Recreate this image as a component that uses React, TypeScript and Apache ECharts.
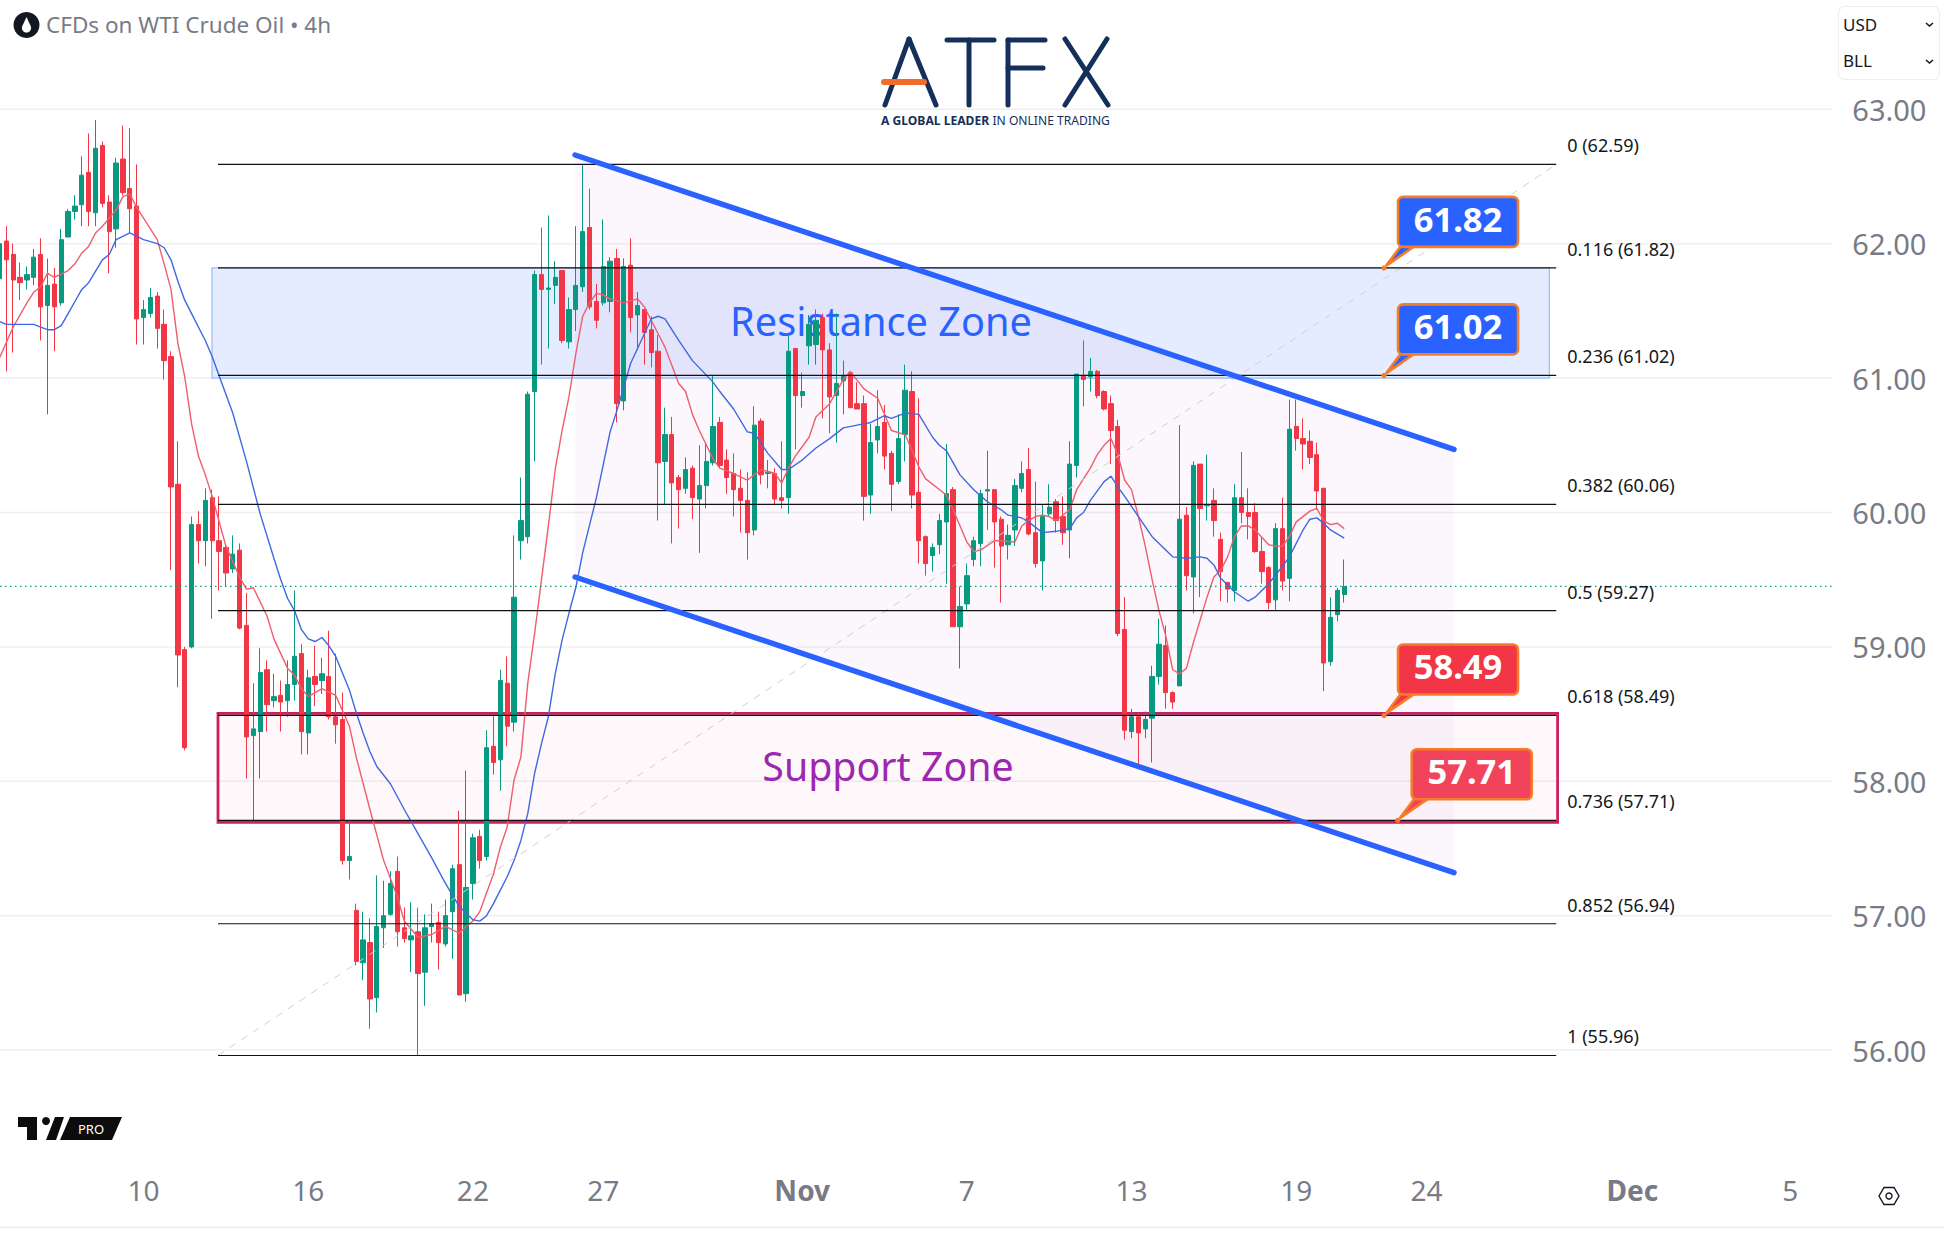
import React, { useEffect, useRef } from "react";
import * as echarts from "echarts";

const opens = [
  61.74, 62.02, 61.92, 61.75, 61.73, 61.75, 61.92, 61.54, 61.70, 61.56,
  62.05, 62.24, 62.29, 62.53, 62.23, 62.73, 62.31, 62.11, 62.63, 62.41,
  62.28, 61.45, 61.48, 61.61, 61.40, 61.16, 60.21, 58.98, 59.00, 59.91,
  59.79, 60.11, 59.79, 59.74, 59.58, 59.72, 59.16, 58.34, 58.37, 58.83,
  58.60, 58.64, 58.60, 58.72, 58.95, 58.36, 58.78, 58.75, 58.78, 58.48,
  58.46, 57.41, 57.04, 56.65, 56.80, 56.39, 56.91, 57.01, 57.33, 56.91,
  56.82, 56.88, 56.58, 56.92, 56.95, 56.79, 57.03, 57.38, 56.42, 57.24,
  57.59, 57.44, 58.26, 58.16, 58.73, 58.44, 59.79, 59.82, 60.90, 61.77,
  61.66, 61.69, 61.80, 61.27, 61.51, 61.68, 62.12, 61.57, 61.56, 61.57,
  61.89, 60.83, 61.84, 61.47, 61.51, 61.36, 61.20, 60.38, 60.58, 60.26,
  60.18, 60.33, 60.10, 60.20, 60.37, 60.67, 60.39, 60.29, 60.18, 60.09,
  59.87, 60.68, 60.29, 60.29, 60.11, 60.11, 61.22, 60.87, 61.24, 61.25,
  61.45, 61.21, 60.87, 60.98, 61.04, 60.81, 60.81, 60.13, 60.54, 60.67,
  60.44, 60.23, 60.58, 60.90, 60.15, 59.82, 59.68, 59.76, 59.93, 60.17,
  59.15, 59.32, 59.65, 59.77, 60.16, 60.17, 59.95, 59.76, 59.87, 60.18,
  60.32, 59.85, 59.64, 59.99, 60.08, 59.97, 59.87, 60.35, 61.02, 61.01,
  61.05, 60.90, 60.81, 60.64, 59.13, 58.37, 58.48, 58.39, 58.47, 58.78,
  59.01, 58.66, 58.71, 59.98, 59.52, 60.36, 60.05, 60.09, 59.80, 59.48,
  59.42, 60.11, 60.00, 60.00, 59.71, 59.59, 59.35, 59.88, 59.51, 60.64,
  60.55, 60.53, 60.43, 60.18, 58.89, 59.24, 59.39,
];
const closes = [
  62.00, 61.88, 61.73, 61.71, 61.77, 61.90, 61.53, 61.69, 61.53, 62.03,
  62.24, 62.28, 62.51, 62.24, 62.71, 62.30, 62.09, 62.60, 62.38, 62.26,
  61.44, 61.51, 61.60, 61.37, 61.13, 60.19, 58.94, 58.25, 59.91, 59.79,
  60.09, 59.79, 59.71, 59.55, 59.69, 59.14, 58.33, 58.39, 58.81, 58.57,
  58.63, 58.59, 58.72, 58.93, 58.37, 58.77, 58.72, 58.80, 58.48, 58.42,
  57.41, 57.44, 56.66, 56.82, 56.38, 56.92, 57.00, 57.24, 56.88, 56.83,
  56.85, 56.57, 56.91, 56.94, 56.80, 57.00, 57.35, 56.41, 57.21, 57.58,
  57.41, 58.25, 58.14, 58.75, 58.41, 59.37, 59.94, 60.88, 61.77, 61.66,
  61.67, 61.75, 61.28, 61.51, 61.69, 62.09, 61.53, 61.43, 61.83, 61.87,
  60.81, 61.83, 61.45, 61.54, 61.34, 61.19, 60.37, 60.58, 60.22, 60.17,
  60.32, 60.11, 60.20, 60.38, 60.64, 60.35, 60.26, 60.17, 60.09, 59.85,
  60.65, 60.28, 60.30, 60.10, 60.09, 61.20, 60.87, 60.90, 61.40, 61.43,
  61.21, 60.86, 60.96, 61.02, 60.78, 60.77, 60.12, 60.52, 60.64, 60.42,
  60.21, 60.55, 60.91, 60.13, 59.79, 59.62, 59.74, 59.94, 60.14, 59.15,
  59.30, 59.53, 59.79, 60.14, 60.17, 59.93, 59.75, 59.83, 60.20, 60.29,
  59.84, 59.62, 59.97, 60.04, 59.94, 59.85, 60.36, 61.03, 60.99, 61.05,
  60.87, 60.77, 60.61, 59.10, 58.38, 58.48, 58.36, 58.46, 58.78, 59.02,
  58.66, 58.59, 59.95, 59.53, 60.35, 60.03, 60.06, 59.94, 59.56, 59.43,
  60.11, 60.00, 59.97, 59.71, 59.56, 59.33, 59.88, 59.49, 60.62, 60.55,
  60.51, 60.41, 60.16, 58.88, 59.22, 59.42, 59.45,
];
const lows = [
  61.67, 61.05, 61.19, 61.58, 61.66, 61.69, 61.28, 60.73, 61.20, 61.54,
  62.05, 62.18, 62.13, 62.13, 62.13, 62.27, 61.78, 61.97, 62.36, 62.08,
  61.25, 61.25, 61.45, 61.22, 60.99, 59.57, 58.70, 58.23, 58.99, 59.62,
  59.60, 59.21, 59.42, 59.45, 59.55, 59.13, 58.02, 57.69, 58.02, 58.37,
  58.55, 58.37, 58.48, 58.60, 58.20, 58.20, 58.56, 58.65, 58.46, 58.28,
  57.38, 57.27, 56.63, 56.52, 56.16, 56.28, 56.76, 57.00, 56.77, 56.80,
  56.58, 55.96, 56.33, 56.80, 56.60, 56.77, 56.68, 56.41, 56.36, 57.12,
  57.35, 57.41, 58.05, 57.93, 58.26, 58.37, 59.65, 59.77, 60.38, 61.10,
  61.22, 61.55, 61.26, 61.22, 61.35, 61.64, 61.51, 61.37, 61.54, 61.49,
  60.67, 60.76, 61.34, 61.21, 61.10, 61.08, 59.94, 60.06, 59.77, 59.88,
  60.14, 59.95, 59.70, 60.03, 60.35, 60.33, 60.14, 59.97, 59.85, 59.65,
  59.83, 60.21, 60.18, 60.06, 60.03, 59.99, 60.47, 60.78, 61.10, 61.10,
  60.70, 60.59, 60.52, 60.73, 60.78, 60.77, 59.94, 59.99, 60.44, 60.32,
  60.01, 60.21, 60.38, 60.03, 59.62, 59.53, 59.56, 59.69, 59.47, 59.15,
  58.84, 59.27, 59.60, 59.60, 59.87, 59.59, 59.33, 59.65, 59.75, 60.15,
  59.83, 59.59, 59.42, 59.97, 59.85, 59.76, 59.66, 60.26, 60.79, 60.90,
  60.85, 60.76, 60.36, 59.08, 58.31, 58.32, 58.13, 58.32, 58.14, 58.72,
  58.54, 58.54, 58.71, 59.42, 59.25, 59.37, 59.94, 59.82, 59.34, 59.33,
  59.34, 59.92, 59.80, 59.70, 59.47, 59.28, 59.27, 59.42, 59.34, 60.46,
  60.32, 60.36, 60.02, 58.67, 58.86, 59.19, 59.33,
];
const highs = [
  62.08, 62.13, 62.00, 61.86, 61.83, 61.96, 62.04, 61.89, 61.82, 62.11,
  62.26, 62.36, 62.65, 62.82, 62.92, 62.76, 62.36, 62.64, 62.88, 62.86,
  62.59, 61.58, 61.67, 61.64, 61.51, 61.20, 60.53, 59.00, 59.97, 60.01,
  60.18, 60.17, 60.12, 59.76, 59.83, 59.77, 59.40, 58.73, 58.99, 58.90,
  58.80, 58.75, 58.90, 59.42, 59.02, 58.83, 59.01, 58.92, 59.12, 58.95,
  58.66, 57.71, 57.09, 57.03, 56.98, 57.30, 57.26, 57.33, 57.44, 57.06,
  57.10, 57.06, 57.01, 57.09, 57.03, 57.12, 57.38, 57.78, 58.08, 57.61,
  57.64, 58.38, 58.51, 58.83, 58.93, 59.83, 60.26, 60.90, 61.80, 62.12,
  62.21, 61.87, 61.80, 61.60, 62.13, 62.59, 62.41, 61.70, 62.18, 61.90,
  61.96, 61.89, 62.04, 61.64, 61.51, 61.46, 61.32, 60.78, 60.71, 60.28,
  60.41, 60.35, 60.50, 60.52, 61.02, 60.71, 60.47, 60.44, 60.32, 60.30,
  60.79, 60.70, 60.39, 60.33, 60.53, 61.32, 61.22, 61.04, 61.47, 61.51,
  61.48, 61.26, 61.48, 61.13, 61.05, 60.97, 60.87, 60.66, 60.91, 60.80,
  60.46, 60.73, 61.10, 61.05, 60.85, 59.83, 59.77, 59.99, 60.51, 60.19,
  59.45, 59.62, 59.82, 60.17, 60.46, 60.17, 59.97, 59.91, 60.25, 60.38,
  60.48, 60.23, 60.06, 60.21, 60.10, 60.12, 60.53, 61.03, 61.28, 61.15,
  61.06, 60.91, 60.87, 60.69, 59.37, 58.54, 58.51, 58.52, 58.86, 59.21,
  59.16, 58.67, 60.65, 60.04, 60.38, 60.36, 60.43, 60.18, 59.85, 59.48,
  60.21, 60.45, 60.18, 60.07, 59.82, 59.60, 59.92, 60.11, 60.84, 60.84,
  60.70, 60.61, 60.52, 60.18, 59.37, 59.44, 59.65,
];

const fastMa = [
  [0, 61.15], [2, 61.38], [4, 61.56], [5, 61.64], [6, 61.68], [7, 61.78], [8, 61.75], [10, 61.8],
  [11, 61.85], [12, 61.93], [13, 61.98], [14, 62.08], [15, 62.13], [17, 62.25], [18, 62.35], [19, 62.37],
  [20, 62.27], [23, 62.03], [24, 61.85], [25, 61.66], [26, 61.26], [27, 61.01], [28, 60.66], [29, 60.42],
  [30, 60.28], [31, 60.12], [33, 59.75], [35, 59.52], [36, 59.43], [37, 59.44], [39, 59.23], [40, 59.06],
  [42, 58.84], [43, 58.79], [44, 58.69], [45, 58.63], [47, 58.69], [49, 58.64], [51, 58.41], [52, 58.18],
  [54, 57.79], [56, 57.41], [58, 57.14], [59, 56.96], [61, 56.84], [63, 56.86], [65, 56.92], [67, 56.87],
  [68, 56.92], [69, 56.96], [70, 57.03], [71, 57.17], [72, 57.31], [73, 57.51], [74, 57.66], [75, 58.01],
  [76, 58.18], [77, 58.73], [78, 59.1], [79, 59.5], [80, 59.9], [81, 60.32], [82, 60.61], [83, 60.86],
  [84, 61.18], [85, 61.46], [86, 61.56], [87, 61.63], [88, 61.62], [89, 61.59], [91, 61.56], [93, 61.59],
  [94, 61.53], [96, 61.33], [97, 61.23], [99, 60.96], [100, 60.9], [101, 60.73], [102, 60.61], [104, 60.4],
  [105, 60.33], [107, 60.29], [109, 60.24], [111, 60.32], [113, 60.29], [114, 60.22], [115, 60.33], [116, 60.42],
  [118, 60.56], [119, 60.71], [121, 60.81], [123, 60.99], [124, 61.05], [126, 60.92], [128, 60.85], [130, 60.61],
  [132, 60.58], [134, 60.34], [135, 60.25], [138, 60.13], [139, 60.02], [141, 59.78], [142, 59.71], [143, 59.72],
  [145, 59.79], [146, 59.79], [148, 59.78], [149, 59.9], [150, 59.94], [151, 59.97], [152, 59.98], [153, 59.97],
  [154, 59.94], [156, 60.02], [157, 60.17], [159, 60.33], [160, 60.43], [161, 60.5], [162, 60.55], [163, 60.43],
  [164, 60.24], [165, 60.17], [166, 59.97], [167, 59.75], [168, 59.5], [169, 59.27], [170, 59.08], [171, 58.83],
  [172, 58.8], [173, 58.84], [174, 59.03], [175, 59.2], [176, 59.37], [177, 59.52], [178, 59.57], [179, 59.67],
  [180, 59.82], [181, 59.9], [182, 59.9], [183, 59.87], [185, 59.76], [186, 59.75], [187, 59.75], [188, 59.82],
  [189, 59.93], [191, 60.01], [192, 60.03], [193, 59.94], [194, 59.91], [195, 59.92], [196, 59.88],
];
const slowMa = [
  [0, 61.42], [1, 61.4], [5, 61.4], [6, 61.38], [7, 61.36], [8, 61.36], [9, 61.39], [10, 61.48],
  [11, 61.57], [12, 61.66], [13, 61.71], [15, 61.88], [16, 61.92], [17, 62.03], [19, 62.08], [21, 62.03],
  [23, 62], [24, 61.97], [25, 61.88], [26, 61.72], [27, 61.58], [28, 61.48], [30, 61.28], [31, 61.16],
  [32, 61.02], [34, 60.74], [36, 60.38], [38, 59.99], [40, 59.66], [41, 59.5], [42, 59.36], [43, 59.27],
  [44, 59.13], [45, 59.06], [46, 59.04], [47, 59.07], [48, 59.01], [49, 58.93], [51, 58.68], [52, 58.51],
  [53, 58.36], [54, 58.22], [55, 58.11], [57, 57.98], [59, 57.79], [61, 57.61], [63, 57.43], [65, 57.24],
  [67, 57.07], [69, 56.97], [70, 56.96], [71, 57], [72, 57.09], [73, 57.19], [74, 57.29], [75, 57.41],
  [76, 57.56], [77, 57.76], [78, 58.06], [79, 58.28], [80, 58.48], [81, 58.8], [82, 59.05], [83, 59.25],
  [84, 59.44], [85, 59.7], [87, 60.11], [89, 60.6], [90, 60.76], [92, 61.11], [94, 61.33], [95, 61.44],
  [96, 61.46], [97, 61.44], [99, 61.28], [101, 61.13], [104, 60.97], [105, 60.9], [107, 60.77], [109, 60.6],
  [110, 60.59], [112, 60.44], [114, 60.32], [115, 60.32], [117, 60.39], [119, 60.48], [121, 60.55], [123, 60.63],
  [125, 60.65], [127, 60.67], [129, 60.72], [130, 60.7], [132, 60.74], [134, 60.73], [136, 60.56], [137, 60.5],
  [138, 60.46], [140, 60.28], [142, 60.17], [144, 60.08], [146, 60.02], [147, 59.98], [149, 59.96], [150, 59.93],
  [152, 59.85], [154, 59.86], [156, 59.88], [157, 59.96], [158, 60], [159, 60.09], [161, 60.23], [162, 60.27],
  [163, 60.19], [164, 60.12], [166, 59.97], [168, 59.82], [171, 59.67], [173, 59.66], [175, 59.67], [176, 59.66],
  [177, 59.61], [178, 59.51], [180, 59.41], [182, 59.34], [183, 59.37], [185, 59.47], [187, 59.6], [188, 59.67],
  [190, 59.87], [191, 59.95], [192, 59.96], [193, 59.92], [194, 59.87], [196, 59.81],
];

const tickIndexes = [21, 45, 69, 88, 117, 141, 165, 189, 208, 238, 261];
const tickLabels = ["10", "16", "22", "27", "{b|Nov}", "7", "13", "19", "24", "{b|Dec}", "5"];
const priceTicks = [56, 57, 58, 59, 60, 61, 62, 63];

const fibRatios = ["0", "0.116", "0.236", "0.382", "0.5", "0.618", "0.736", "0.852", "1"];
const fibPrices = [62.59, 61.82, 61.02, 60.06, 59.27, 58.49, 57.71, 56.94, 55.96];

const calloutPrices = [61.82, 61.02, 58.49, 57.71];
const calloutSlots = [202.3, 202.3, 202.3, 204.3];
const calloutColors = ["#2962ff", "#2962ff", "#f23645", "#f2435c"];

const channelTop = [[84.4, 62.66], [212.5, 60.47]];
const channelBottom = [[84.4, 59.52], [212.5, 57.32]];
const fibTrend = [[32.35, 55.96], [227.4, 62.59]];

const SLOT_COUNT = 268;
const SLOT = 6.861;
const PANE_END = 267.6; // price pane stops a little short of the last slot
const FONT = "'Noto Sans', sans-serif";
const GRAY = "#787b86";
const UP = "#089981";
const DOWN = "#f23645";
const NAVY = "#14305a";

const categories = Array.from({ length: SLOT_COUNT }, (_, i) => String(i));

const seg = (x1: number, y1: number, x2: number, y2: number, color = NAVY, lineWidth = 5) => ({
  type: "line",
  shape: { x1, y1, x2, y2 },
  style: { stroke: color, lineWidth, lineCap: "round" },
  silent: true,
});
const label = (text: string, x: number, y: number, font: string, fill: string, align = "left") => ({
  type: "text",
  style: { text, x, y, font, fill, align, verticalAlign: "middle" },
  silent: true,
});
const poly = (points: number[][], fill: string) => ({
  type: "polygon",
  shape: { points },
  style: { fill },
  silent: true,
});

const chrome = [
  // title
  { type: "circle", shape: { cx: 26.5, cy: 25, r: 13 }, style: { fill: "#131722" }, silent: true },
  { type: "circle", shape: { cx: 26.5, cy: 28, r: 4.6 }, style: { fill: "#fff" }, silent: true },
  poly([[26.5, 17], [22.4, 26], [30.6, 26]], "#fff"),
  label("CFDs on WTI Crude Oil • 4h", 46, 24, `22.5px ${FONT}`, GRAY),
  // ATFX logo
  seg(885, 105, 909, 39),
  seg(909, 39, 936, 105),
  seg(947, 40, 994, 40),
  seg(969, 40, 969, 105),
  seg(1008, 40, 1008, 105),
  seg(1008, 40, 1045, 40),
  seg(1008, 68, 1043, 68),
  seg(1065, 39, 1108, 105),
  seg(1107, 39, 1065, 105),
  seg(884, 82, 924, 82, "#f26b2d", 6),
  {
    type: "text",
    silent: true,
    style: {
      x: 881,
      y: 120,
      verticalAlign: "middle",
      text: "{b|A GLOBAL LEADER} {n|IN ONLINE TRADING}",
      fill: NAVY,
      rich: {
        b: { font: `bold 12.1px ${FONT}`, fill: NAVY },
        n: { font: `12.1px ${FONT}`, fill: NAVY },
      },
    },
  },
  // currency / unit box
  {
    type: "rect",
    shape: { x: 1838.5, y: 6.5, width: 101, height: 73, r: 6 },
    style: { fill: "#fff", stroke: "#eeeeee", lineWidth: 1.2 },
    silent: true,
  },
  label("USD", 1843, 24.5, `17px ${FONT}`, "#131722"),
  label("BLL", 1843, 60.5, `17px ${FONT}`, "#131722"),
  {
    type: "polyline",
    shape: { points: [[1926, 23], [1929.5, 26], [1933, 23]] },
    style: { stroke: "#131722", fill: "none", lineWidth: 1.6 },
    silent: true,
  },
  {
    type: "polyline",
    shape: { points: [[1926, 60], [1929.5, 63], [1933, 60]] },
    style: { stroke: "#131722", fill: "none", lineWidth: 1.6 },
    silent: true,
  },
  // TradingView mark
  poly([[18, 1117], [37, 1117], [37, 1140], [27, 1140], [27, 1127], [18, 1127]], "#0c0c0c"),
  { type: "circle", shape: { cx: 46, cy: 1121, r: 4 }, style: { fill: "#0c0c0c" }, silent: true },
  poly([[55, 1117], [64, 1117], [56, 1140], [46, 1140]], "#0c0c0c"),
  poly([[70, 1117], [122, 1117], [112, 1140], [60, 1140]], "#0c0c0c"),
  label("PRO", 91, 1129, `13px ${FONT}`, "#fff", "center"),
  // bottom rule and settings glyph
  seg(0, 1227.5, 1944, 1227.5, "#ececec", 1.5),
  {
    type: "polygon",
    shape: { points: [[1879, 1196], [1884, 1187.5], [1894, 1187.5], [1899, 1196], [1894, 1204.5], [1884, 1204.5]] },
    style: { fill: "#fff", stroke: "#131722", lineWidth: 1.4 },
    silent: true,
  },
  {
    type: "circle",
    shape: { cx: 1889, cy: 1196, r: 3 },
    style: { fill: "#fff", stroke: "#131722", lineWidth: 1.4 },
    silent: true,
  },
];

// grid, zones and channel body, under the candles
const renderBack = (_p: any, api: any) => {
  const a = (u: number, v: number) => api.coord([u, v]);
  const channel = [
    a(channelTop[0][0], channelTop[0][1]),
    a(channelTop[1][0], channelTop[1][1]),
    a(channelBottom[1][0], channelBottom[1][1]),
    a(channelBottom[0][0], channelBottom[0][1]),
  ];
  const rTop = a(31.48, 61.82);
  const rBottom = a(226.4, 61.0);
  const sTop = a(32.35, 58.505);
  const sBottom = a(227.6, 57.695);
  const gridLines = priceTicks.map((p) => {
    const end = a(PANE_END, p);
    return {
      type: "line",
      shape: { x1: 0, y1: end[1], x2: end[0], y2: end[1] },
      style: { stroke: "#f0f0f0", lineWidth: 1.5 },
    };
  });
  return {
    type: "group",
    children: [
      ...gridLines,
      {
        type: "rect",
        shape: { x: rTop[0], y: rTop[1], width: rBottom[0] - rTop[0], height: rBottom[1] - rTop[1] },
        style: { fill: "rgba(41,98,255,0.12)", stroke: "#9cc0f5", lineWidth: 1.3 },
      },
      {
        type: "rect",
        shape: { x: sTop[0], y: sTop[1], width: sBottom[0] - sTop[0], height: sBottom[1] - sTop[1] },
        style: { fill: "rgba(233,30,99,0.03)", stroke: "#cc1f62", lineWidth: 2.8 },
      },
      { type: "polygon", shape: { points: channel }, style: { fill: "rgba(156,39,176,0.04)" } },
      {
        type: "text",
        style: { text: "Resistance Zone", x: 881, y: 321, font: `39.7px ${FONT}`, fill: "#2962ff", align: "center", verticalAlign: "middle" },
      },
      {
        type: "text",
        style: { text: "Support Zone", x: 888, y: 766, font: `39.3px ${FONT}`, fill: "#9c27b0", align: "center", verticalAlign: "middle" },
      },
    ],
  };
};

// fib grid, channel rails and price callouts, over the candles
const renderFront = (_p: any, api: any) => {
  const a = (u: number, v: number) => api.coord([u, v]);
  const children: any[] = [];
  const trendA = a(fibTrend[0][0], fibTrend[0][1]);
  const trendB = a(fibTrend[1][0], fibTrend[1][1]);
  children.push({
    type: "line",
    shape: { x1: trendA[0], y1: trendA[1], x2: trendB[0], y2: trendB[1] },
    style: { stroke: "#cfcfcf", lineWidth: 1, lineDash: [7, 7] },
  });
  const lastClose = closes[closes.length - 1];
  const pRight = a(PANE_END, lastClose);
  children.push({
    type: "line",
    shape: { x1: 0, y1: pRight[1], x2: pRight[0], y2: pRight[1] },
    style: { stroke: UP, lineWidth: 1.2, lineDash: [1.5, 3.5] },
  });
  fibPrices.forEach((price, i) => {
    const left = a(32.35, price);
    const right = a(227.4, price);
    children.push({
      type: "line",
      shape: { x1: left[0], y1: left[1], x2: right[0], y2: right[1] },
      style: { stroke: "#111111", lineWidth: 1.2 },
    });
    children.push({
      type: "text",
      style: {
        text: `${fibRatios[i]} (${price.toFixed(2)})`,
        x: right[0] + 11,
        y: right[1] - 19,
        font: `18px ${FONT}`,
        fill: "#131722",
        verticalAlign: "middle",
      },
    });
  });
  [channelTop, channelBottom].forEach((rail) => {
    const s = a(rail[0][0], rail[0][1]);
    const e = a(rail[1][0], rail[1][1]);
    children.push({
      type: "line",
      shape: { x1: s[0], y1: s[1], x2: e[0], y2: e[1] },
      style: { stroke: "#2962ff", lineWidth: 5.5, lineCap: "round" },
    });
  });
  calloutPrices.forEach((price, i) => {
    const tip = a(calloutSlots[i], price);
    const x = tip[0] + 14;
    const y = tip[1] - 71;
    children.push({ type: "circle", shape: { cx: tip[0], cy: tip[1], r: 2.6 }, style: { fill: "#f57c28" } });
    children.push({
      type: "polygon",
      shape: { points: [[tip[0] + 2, tip[1] - 2], [x + 3, y + 49], [x + 17, y + 49]] },
      style: { fill: calloutColors[i], stroke: "#f57c28", lineWidth: 2.6 },
    });
    children.push({
      type: "rect",
      shape: { x, y, width: 120, height: 50, r: 5 },
      style: { fill: calloutColors[i], stroke: "#f57c28", lineWidth: 2.6 },
    });
    children.push({
      type: "text",
      style: {
        text: price.toFixed(2),
        x: x + 60,
        y: y + 21.5,
        font: `bold 34.5px ${FONT}`,
        fill: "#fff",
        align: "center",
        verticalAlign: "middle",
      },
    });
  });
  return { type: "group", children };
};

export default function App() {
  const ref = useRef<HTMLDivElement>(null);

  useEffect(() => {
    if (!ref.current) return;
    const chart = echarts.init(ref.current, undefined, { renderer: "svg" });
    chart.setOption({
      animation: false,
      backgroundColor: "#ffffff",
      grid: {
        left: -3.96,
        top: 109.3,
        width: SLOT_COUNT * SLOT,
        height: 940.8,
        containLabel: false,
        outerBoundsMode: "none",
      },
      xAxis: [
        {
          type: "category",
          data: categories,
          axisLine: { show: false },
          axisTick: { show: false },
          splitLine: { show: false },
          axisLabel: {
            color: GRAY,
            fontSize: 28,
            fontFamily: FONT,
            margin: 126,
            interval: (index: number) => tickIndexes.includes(index),
            formatter: (_v: string, index: number) => tickLabels[tickIndexes.indexOf(index)] ?? "",
            rich: { b: { color: GRAY, fontSize: 28, fontFamily: FONT, fontWeight: "bold" } },
          },
        },
        { type: "value", min: 0, max: SLOT_COUNT, show: false, splitLine: { show: false } },
      ],
      yAxis: {
        type: "value",
        position: "right",
        min: priceTicks[0],
        max: priceTicks[priceTicks.length - 1],
        interval: 1,
        axisLine: { show: false },
        axisTick: { show: false },
        splitLine: { show: false },
        axisLabel: {
          color: GRAY,
          fontSize: 29,
          fontFamily: FONT,
          margin: 17.5,
          padding: [0, 0, 4, 0],
          formatter: (v: number) => v.toFixed(2),
        },
      },
      series: [
        {
          type: "custom",
          coordinateSystem: "cartesian2d",
          xAxisIndex: 1,
          yAxisIndex: 0,
          clip: false,
          silent: true,
          z: 1,
          data: [[0, 60]],
          renderItem: renderBack,
        },
        {
          type: "candlestick",
          xAxisIndex: 0,
          yAxisIndex: 0,
          clip: false,
          barWidth: 4.8,
          z: 2,
          data: opens.map((o, i) => [o, closes[i], lows[i], highs[i]]),
          itemStyle: { color: UP, color0: DOWN, borderColor: UP, borderColor0: DOWN, borderWidth: 1 },
        },
        {
          type: "line",
          xAxisIndex: 0,
          yAxisIndex: 0,
          data: fastMa,
          symbol: "none",
          clip: false,
          z: 3,
          lineStyle: { color: "#ef5e6b", width: 1.4 },
        },
        {
          type: "line",
          xAxisIndex: 0,
          yAxisIndex: 0,
          data: slowMa,
          symbol: "none",
          clip: false,
          z: 3,
          lineStyle: { color: "#3f69e0", width: 1.4 },
        },
        {
          type: "custom",
          coordinateSystem: "cartesian2d",
          xAxisIndex: 1,
          yAxisIndex: 0,
          clip: false,
          silent: true,
          z: 4,
          data: [[0, 60]],
          renderItem: renderFront,
        },
      ],
      graphic: { elements: chrome },
    });
    return () => chart.dispose();
  }, []);

  return (
    <div
      ref={ref}
      style={{ position: "absolute", left: 0, top: 0, width: 1944, height: 1238, background: "#fff" }}
    />
  );
}
